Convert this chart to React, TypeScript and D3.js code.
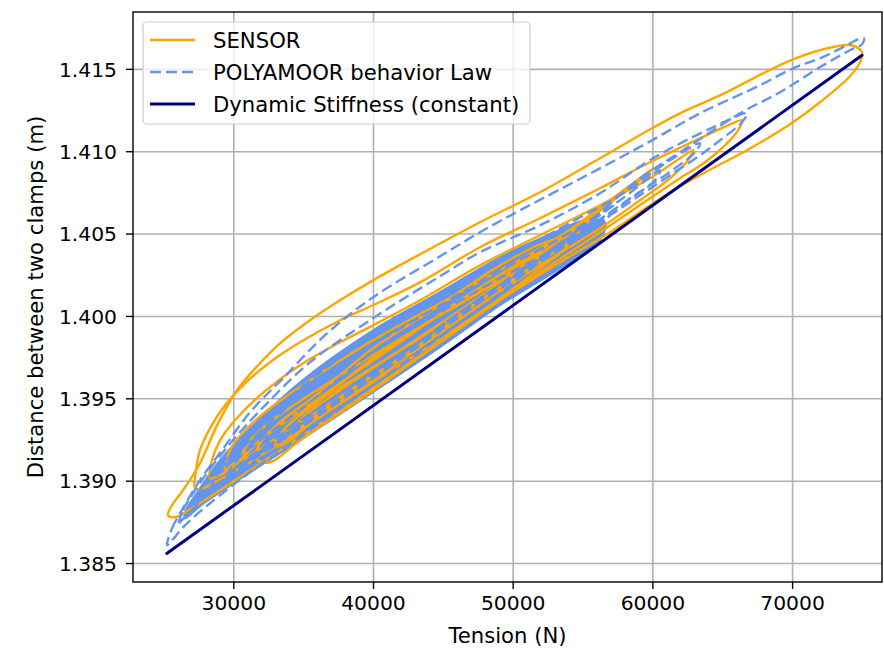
import * as d3 from "d3";

type Pt = [number, number];

const tensionTicks = [30000, 40000, 50000, 60000, 70000];
const distanceTicks = [1.385, 1.39, 1.395, 1.4, 1.405, 1.41, 1.415];

// Dynamic stiffness (constant) : straight line
const stiffnessLine: Pt[] = [[25200, 1.38561], [74970, 1.41585]];

// SENSOR hysteresis cycles (tension N, distance m)
const sensorCycle1: Pt[] = [
  [25290, 1.38793], [25577, 1.38854], [26364, 1.38945], [27581, 1.39109], [28798, 1.39339],
  [30229, 1.39552], [31733, 1.39704], [33307, 1.39837], [35455, 1.39977], [37602, 1.40098],
  [39964, 1.40219], [43329, 1.40377], [47623, 1.40572], [51918, 1.40754], [56213, 1.4096],
  [59935, 1.41142], [61939, 1.41233], [64803, 1.41342], [70028, 1.41561], [73177, 1.4164],
  [74251, 1.41646], [74967, 1.41603], [74824, 1.41543], [74108, 1.41458], [71961, 1.413],
  [69813, 1.41166], [66735, 1.41009], [63872, 1.40881], [61939, 1.4079], [59792, 1.40675],
  [56929, 1.40511], [53350, 1.40329], [49055, 1.40098], [44760, 1.39843], [39964, 1.39564],
  [34739, 1.39267], [31160, 1.39066], [28798, 1.38933], [27080, 1.38842], [25792, 1.38781],
];
const sensorCycle2: Pt[] = [
  [27223, 1.38957], [27295, 1.39066], [27581, 1.39188], [28297, 1.39321], [29371, 1.39461],
  [30802, 1.39594], [32592, 1.39722], [34739, 1.39843], [37602, 1.39977], [39964, 1.40068],
  [43329, 1.40207], [47623, 1.4042], [51918, 1.40596], [56213, 1.40778], [59792, 1.40936],
  [63371, 1.41081], [65518, 1.41166], [66377, 1.41191], [66091, 1.4113], [65161, 1.41039],
  [63729, 1.40936], [61939, 1.40839], [59792, 1.40717], [56213, 1.40511], [51918, 1.40268],
  [47623, 1.40025], [43329, 1.39782], [39964, 1.39601], [34739, 1.39309], [31160, 1.39115],
  [28655, 1.38994], [27581, 1.38951],
];
const sensorCycle3: Pt[] = [
  [28297, 1.39018], [28440, 1.39127], [29013, 1.39248], [30086, 1.3937], [31876, 1.39521],
  [34739, 1.39704], [37602, 1.39843], [39964, 1.39946], [43329, 1.40098], [47623, 1.4031],
  [51918, 1.40493], [56213, 1.40675], [59792, 1.40839], [61939, 1.4096], [62870, 1.41009],
  [62512, 1.40948], [61224, 1.40839], [59076, 1.40705], [56213, 1.40535], [51918, 1.4031],
  [47623, 1.40068], [43329, 1.39825], [39964, 1.39643], [34739, 1.39358], [31160, 1.39157],
  [29013, 1.39036],
];
const sensorCycle4: Pt[] = [
  [29371, 1.39066], [29728, 1.39188], [30802, 1.39309], [32592, 1.39443], [35455, 1.39613],
  [39964, 1.39855], [44760, 1.4008], [49055, 1.4028], [53350, 1.40486], [56929, 1.40705],
  [59076, 1.40839], [60007, 1.40899], [59434, 1.40851], [57645, 1.40735], [54781, 1.40553],
  [50487, 1.40329], [46192, 1.40098], [41897, 1.39843], [36886, 1.39552], [32592, 1.39297],
  [30086, 1.39115],
];
const sensorCycle5: Pt[] = [
  [30444, 1.39127], [31160, 1.39248], [32950, 1.39382], [36171, 1.39564], [39964, 1.39764],
  [44760, 1.40007], [49055, 1.40219], [52634, 1.4042], [54781, 1.40553], [55855, 1.40626],
  [55354, 1.40572], [54066, 1.40462], [51918, 1.40329], [47623, 1.40098], [43329, 1.39868],
  [39034, 1.39643], [34739, 1.39418], [31876, 1.39248], [30802, 1.39157],
];
const sensorCycle6: Pt[] = [
  [31518, 1.39157], [32019, 1.39248], [33307, 1.39358], [36171, 1.3954], [39964, 1.39807],
  [44760, 1.40068], [49055, 1.4031], [52276, 1.4045], [54066, 1.40474], [53708, 1.40414],
  [51918, 1.40292], [49055, 1.4011], [44760, 1.39843], [39964, 1.39552], [34739, 1.39248],
  [32592, 1.39115], [31661, 1.39127],
];
const sensorCycle7: Pt[] = [
  [32950, 1.39218], [33665, 1.39321], [36171, 1.39491], [39964, 1.39746], [44760, 1.40013],
  [49055, 1.40232], [51202, 1.40353], [51918, 1.40389], [51560, 1.40329], [49055, 1.40159],
  [44760, 1.39898], [39964, 1.39613], [36171, 1.394], [34023, 1.39248], [33164, 1.39212],
];
const sensorCycle8: Pt[] = [
  [34023, 1.39261], [34739, 1.3937], [37602, 1.39552], [41897, 1.39795], [46192, 1.40037],
  [49055, 1.40207], [50129, 1.40292], [49771, 1.40232], [46908, 1.4005], [41897, 1.39746],
  [37602, 1.39503], [34739, 1.39321], [34166, 1.39261],
];

// POLYAMOOR behavior law cycles
const polyamoorCycle1: Pt[] = [
  [25219, 1.38611], [25577, 1.38714], [26364, 1.38836], [27581, 1.39006], [29156, 1.39188],
  [31160, 1.39418], [33522, 1.39625], [36529, 1.39886], [39964, 1.40116], [44760, 1.40365],
  [47623, 1.40511], [50487, 1.40644], [56213, 1.40899], [59935, 1.41069], [63371, 1.41233],
  [67666, 1.41403], [70028, 1.41506], [71961, 1.41567], [73750, 1.4164], [74681, 1.41682],
  [75110, 1.41688], [74967, 1.41652], [74108, 1.41616], [72175, 1.41524], [69097, 1.41361],
  [66234, 1.41233], [61939, 1.40996], [59076, 1.40839], [56213, 1.40632], [53350, 1.40432],
  [49055, 1.40141], [44760, 1.39874], [39964, 1.39582], [34739, 1.39267], [31160, 1.39054],
  [28297, 1.38866], [26507, 1.38732], [25577, 1.38641],
];
const polyamoorCycle2: Pt[] = [
  [26006, 1.38732], [26364, 1.38823], [27223, 1.38945], [28655, 1.39115], [30444, 1.39297],
  [32592, 1.39491], [35455, 1.39722], [39964, 1.39989], [44760, 1.40244], [47623, 1.40389],
  [51918, 1.40553], [56213, 1.40748], [60007, 1.4096], [64302, 1.41148], [66735, 1.41233],
  [66377, 1.41179], [64803, 1.41069], [63371, 1.40978], [61224, 1.40857], [59076, 1.40735],
  [56213, 1.40572], [51918, 1.40329], [47623, 1.40086], [43329, 1.39825], [39964, 1.39625],
  [34739, 1.39321], [31160, 1.39115], [28297, 1.38933], [26865, 1.38811], [26149, 1.38751],
];
const polyamoorCycle3: Pt[] = [
  [27223, 1.38854], [27581, 1.38945], [28655, 1.39066], [30444, 1.39218], [33307, 1.39461],
  [36886, 1.39704], [39964, 1.39886], [44760, 1.40128], [49055, 1.40329], [53350, 1.40535],
  [57645, 1.40735], [61224, 1.40948], [63371, 1.41051], [63013, 1.40996], [61582, 1.40899],
  [59076, 1.40754], [56213, 1.40584], [51918, 1.40341], [47623, 1.40098], [43329, 1.39843],
  [39964, 1.39643], [34739, 1.39339], [31160, 1.39127], [28655, 1.38957], [27581, 1.38884],
];
const polyamoorCycle4: Pt[] = [
  [28297, 1.38945], [29013, 1.39066], [30802, 1.39218], [34023, 1.39461], [37602, 1.39686],
  [39964, 1.39825], [44760, 1.40068], [49055, 1.4028], [53350, 1.40474], [57645, 1.40705],
  [60508, 1.40887], [60150, 1.40826], [58360, 1.40717], [55497, 1.40547], [51202, 1.4031],
  [46908, 1.40068], [42613, 1.39807], [39964, 1.39661], [35455, 1.394], [31876, 1.39175],
  [29371, 1.39018], [28440, 1.38957],
];
const polyamoorCycle5: Pt[] = [
  [29371, 1.39006], [30086, 1.39115], [31876, 1.39248], [34739, 1.3943], [39964, 1.39782],
  [44760, 1.40025], [49055, 1.40232], [53350, 1.40432], [56213, 1.40614], [57287, 1.40675],
  [56929, 1.40614], [54781, 1.40493], [51202, 1.4031], [46908, 1.40068], [41897, 1.39764],
  [36886, 1.39491], [32592, 1.39236], [30086, 1.39078], [29514, 1.39018],
];
// the many small overlapping POLYAMOOR cycles merge into one dense band
const polyamoorCore: Pt[] = [
  [26507, 1.38811], [27581, 1.38957], [29013, 1.39127], [31160, 1.39321], [34739, 1.39601],
  [39964, 1.39916], [44760, 1.40147], [49055, 1.40359], [52634, 1.40499], [55139, 1.40584],
  [56571, 1.40572], [56213, 1.40462], [53350, 1.40292], [49055, 1.40068], [44760, 1.39813],
  [39964, 1.3954], [34739, 1.39248], [31160, 1.39054], [29013, 1.38933], [27581, 1.38848],
  [26507, 1.38775],
];

const sensorCycles = [sensorCycle1, sensorCycle2, sensorCycle3, sensorCycle4, sensorCycle5, sensorCycle6, sensorCycle7, sensorCycle8];
const polyamoorCycles = [polyamoorCycle1, polyamoorCycle2, polyamoorCycle3, polyamoorCycle4, polyamoorCycle5];

const W = 884;
const H = 652;
const L = 133, R = 882, T = 12, B = 582;
const FONT = "DejaVu Sans, sans-serif";
const FS = 20.3; // tick labels
const FL = 21.2; // axis labels and legend

const ORANGE = "#FFA500";
const BLUE = "#6495ED";
const NAVY = "#000080";

export default function App() {
  const x = d3.scaleLinear().domain([22785, 76400]).range([L, R]);
  const y = d3.scaleLinear().domain([1.38388, 1.41848]).range([B, T]);
  const loop = d3.line<Pt>().x((d) => x(d[0])).y((d) => y(d[1])).curve(d3.curveCatmullRomClosed.alpha(0.5));
  const straight = d3.line<Pt>().x((d) => x(d[0])).y((d) => y(d[1]));
  const fy = d3.format(".3f");

  const legend = [
    { label: "SENSOR", color: ORANGE, dash: undefined, w: 2.5 },
    { label: "POLYAMOOR behavior Law", color: BLUE, dash: "11,5", w: 2.5 },
    { label: "Dynamic Stiffness (constant)", color: NAVY, dash: undefined, w: 3 },
  ];

  return (
    <svg width={W} height={H} style={{ position: "absolute", left: 0, top: 0, background: "#fff" }} fontFamily={FONT}>
      <defs>
        <clipPath id="plot">
          <rect x={L} y={T} width={R - L} height={B - T} />
        </clipPath>
      </defs>
      {/* grid */}
      {tensionTicks.map((t) => (
        <line key={"gx" + t} x1={x(t)} x2={x(t)} y1={T} y2={B} stroke="#b0b0b0" strokeWidth={1.6} />
      ))}
      {distanceTicks.map((t) => (
        <line key={"gy" + t} x1={L} x2={R} y1={y(t)} y2={y(t)} stroke="#b0b0b0" strokeWidth={1.6} />
      ))}

      <g clipPath="url(#plot)" fill="none" strokeLinejoin="round" strokeLinecap="round">
        <path d={loop(polyamoorCore) || undefined} fill={BLUE} stroke={BLUE} strokeWidth={2} />
        {sensorCycles.map((c, i) => (
          <path key={"s" + i} d={loop(c) || undefined} stroke={ORANGE} strokeWidth={2.4} />
        ))}
        {polyamoorCycles.map((c, i) => (
          <path key={"p" + i} d={loop(c) || undefined} stroke={BLUE} strokeWidth={2.4} strokeDasharray="11,5" strokeLinecap="butt" />
        ))}
        <path d={straight(stiffnessLine) || undefined} stroke={NAVY} strokeWidth={3} />
      </g>

      {/* axes frame */}
      <rect x={L} y={T} width={R - L} height={B - T} fill="none" stroke="#000" strokeWidth={1.4} />
      {tensionTicks.map((t) => (
        <g key={"tx" + t}>
          <line x1={x(t)} x2={x(t)} y1={B} y2={B + 7} stroke="#000" strokeWidth={1.4} />
          <text x={x(t)} y={B + 28} textAnchor="middle" fontSize={FS} fill="#000">{t}</text>
        </g>
      ))}
      {distanceTicks.map((t) => (
        <g key={"ty" + t}>
          <line x1={L - 7} x2={L} y1={y(t)} y2={y(t)} stroke="#000" strokeWidth={1.4} />
          <text x={L - 16} y={y(t)} dy="0.36em" textAnchor="end" fontSize={FS} fill="#000">{fy(t)}</text>
        </g>
      ))}
      <text x={(L + R) / 2} y={643} textAnchor="middle" fontSize={FL} fill="#000">Tension (N)</text>
      <text transform={`translate(43,${(T + B) / 2}) rotate(-90)`} textAnchor="middle" fontSize={FL} fill="#000">
        Distance between two clamps (m)
      </text>

      {/* legend */}
      <rect x={143} y={22} width={387} height={102} rx={4} fill="#fff" fillOpacity={0.8} stroke="#cccccc" strokeWidth={1.2} />
      {legend.map((e, i) => {
        const ly = 40 + i * 32;
        return (
          <g key={e.label}>
            <line x1={150} x2={195} y1={ly} y2={ly} stroke={e.color} strokeWidth={e.w} strokeDasharray={e.dash} />
            <text x={213} y={ly} dy="0.36em" fontSize={FL} fill="#000">{e.label}</text>
          </g>
        );
      })}
    </svg>
  );
}
